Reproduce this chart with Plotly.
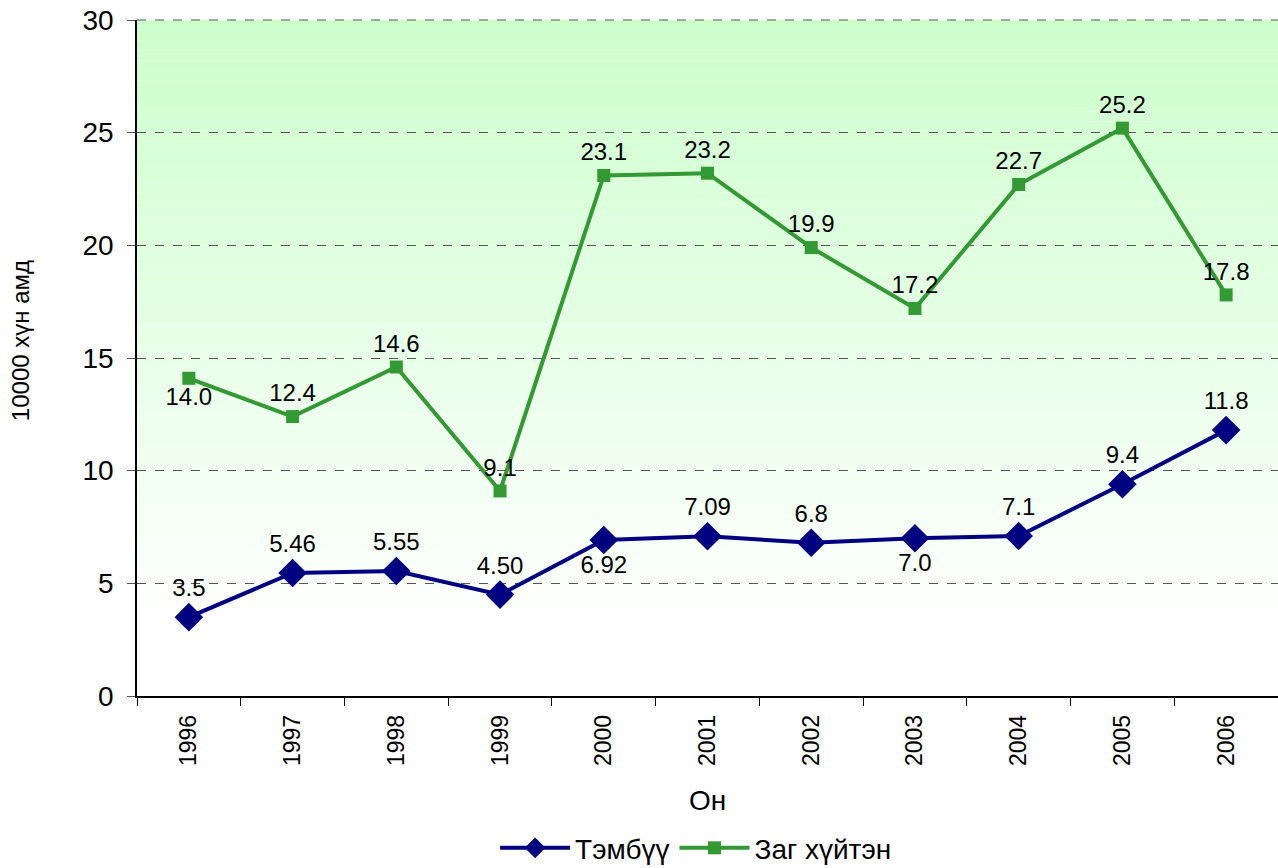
import plotly.graph_objects as go

years = ["1996", "1997", "1998", "1999", "2000", "2001", "2002", "2003", "2004", "2005", "2006"]

# Тэмбүү (syphilis)
tembuu = [3.5, 5.46, 5.55, 4.50, 6.92, 7.09, 6.8, 7.0, 7.1, 9.4, 11.8]
tembuu_labels = ["3.5", "5.46", "5.55", "4.50", "6.92", "7.09", "6.8", "7.0", "7.1", "9.4", "11.8"]
tembuu_pos = ["top center", "top center", "top center", "top center", "bottom center", "top center",
              "top center", "bottom center", "top center", "top center", "top center"]

# Заг хүйтэн (gonorrhea)
zag = [14.1, 12.4, 14.6, 9.1, 23.1, 23.2, 19.9, 17.2, 22.7, 25.2, 17.8]
zag_labels = ["14.0", "12.4", "14.6", "9.1", "23.1", "23.2", "19.9", "17.2", "22.7", "25.2", "17.8"]
zag_pos = ["bottom center", "top center", "top center", "top center", "top center", "top center",
           "top center", "top center", "top center", "top center", "top center"]

NAVY = "#000080"
GREEN = "#339933"
GRID = "#555555"
FONT = "Liberation Sans, Arial, sans-serif"

fig = go.Figure()

fig.add_trace(go.Scatter(
    x=years, y=tembuu, name="Тэмбүү",
    mode="lines+markers+text",
    line=dict(color=NAVY, width=4),
    marker=dict(symbol="diamond", size=22, color=NAVY),
    text=tembuu_labels, textposition=tembuu_pos,
    textfont=dict(size=24, color="black", family=FONT),
    cliponaxis=False,
))
fig.add_trace(go.Scatter(
    x=years, y=zag, name="Заг хүйтэн",
    mode="lines+markers+text",
    line=dict(color=GREEN, width=4),
    marker=dict(symbol="square", size=13, color=GREEN),
    text=zag_labels, textposition=zag_pos,
    textfont=dict(size=24, color="black", family=FONT),
    cliponaxis=False,
))

# green-to-white vertical gradient background of the plot area
shapes = []
n_bands = 60
g_bottom, g_top = 3.0, 30.0
top_rgb = (204, 255, 204)
for i in range(n_bands):
    y0 = g_bottom + (g_top - g_bottom) * i / n_bands
    y1 = g_bottom + (g_top - g_bottom) * (i + 1) / n_bands
    t = (i + 0.5) / n_bands
    r = round(255 + (top_rgb[0] - 255) * t)
    g = round(255 + (top_rgb[1] - 255) * t)
    b = round(255 + (top_rgb[2] - 255) * t)
    shapes.append(dict(type="rect", xref="paper", yref="y", x0=0, x1=1, y0=y0, y1=y1,
                       fillcolor=f"rgb({r},{g},{b})", line=dict(width=0), layer="below"))
# top gridline (plotly skips the one on the plot edge)
shapes.append(dict(type="line", xref="paper", yref="paper", x0=0, x1=1, y0=1, y1=1,
                   line=dict(color=GRID, width=1, dash="dash"), layer="above"))

fig.update_layout(
    width=1278, height=868,
    margin=dict(l=137, r=0, t=20, b=172, autoexpand=False),
    paper_bgcolor="white",
    plot_bgcolor="white",
    font=dict(family=FONT, color="black"),
    shapes=shapes,
    showlegend=True,
    legend=dict(
        orientation="h", x=0.49, xanchor="center", y=-0.225, yanchor="middle",
        font=dict(size=28, family=FONT), itemwidth=70, traceorder="normal",
        bgcolor="rgba(0,0,0,0)",
    ),
    xaxis=dict(
        type="category", range=[-0.5, 10.5], tickangle=-90, tickfont=dict(size=23),
        showline=True, linecolor="black", linewidth=1.5,
        ticks="outside", tickson="boundaries", ticklen=8, tickcolor="black",
        ticklabelstandoff=8,
        showgrid=False, zeroline=False,
    ),
    yaxis=dict(
        range=[0, 30], dtick=5, tickfont=dict(size=28),
        showline=True, linecolor="black", linewidth=1.5,
        ticks="outside", ticklen=8, tickcolor=GRID,
        ticklabelstandoff=8, ticklabeloverflow="allow",
        showgrid=True, gridcolor=GRID, griddash="dash", gridwidth=1,
        zeroline=False,
    ),
    annotations=[
        dict(text="Он", xref="paper", yref="paper", x=0.5, y=-0.154,
             showarrow=False, font=dict(size=28), xanchor="center", yanchor="middle"),
        dict(text="10000 хүн амд", xref="paper", yref="paper", x=-0.1025, y=0.525,
             showarrow=False, textangle=-90, font=dict(size=24),
             xanchor="center", yanchor="middle"),
    ],
)

fig.write_html("out.html", config={"displayModeBar": False},
               post_script="document.body.style.margin = '0px';")
